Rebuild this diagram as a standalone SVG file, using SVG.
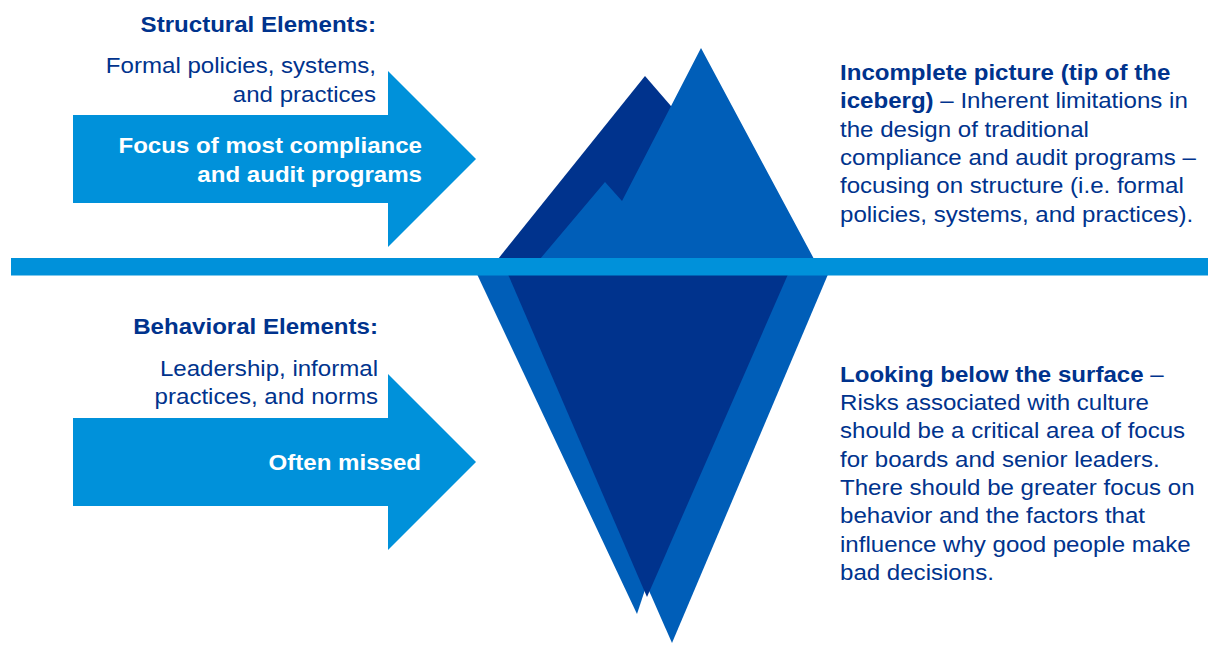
<svg xmlns="http://www.w3.org/2000/svg" width="1208" height="645" viewBox="0 0 1208 645">
<style>
.t{font-family:"Liberation Sans",Arial,sans-serif;font-size:22px;fill:#00338D}
.b{font-weight:bold}
.w{fill:#FFFFFF;font-weight:bold}
.e{text-anchor:end}
.dk{fill:#00338D}
.md{fill:#005EB8}
.lt{fill:#0091DA}
</style>
<rect width="1208" height="645" fill="#FFFFFF"/>
<g id="iceberg">
<polygon class="md" points="476,272 750,272 637,614"/>
<polygon class="md" points="509,272 829,272 672,643"/>
<polygon class="dk" points="507,272 789,272 647,597"/>
<polygon class="dk" points="498,259 645,76 722,165 722,259"/>
<polygon class="md" points="701,48 814,259 540,259 605,182 622,201"/>
</g>
<g id="water">
<rect class="lt" x="11" y="258" width="1197" height="17.5"/>
</g>
<g id="connectors">
<polygon id="arrow-top" class="lt" points="73,115 388,115 388,71 476,159 388,247 388,203 73,203"/>
<polygon id="arrow-bottom" class="lt" points="73,418 388,418 388,374 476,462 388,550 388,506 73,506"/>
</g>
<g id="structural-label" transform="translate(376 0) scale(1.095 1)">
<text class="t b e" x="0" y="32">Structural Elements:</text>
<text class="t e" x="0" y="73.5">Formal policies, systems,</text>
<text class="t e" x="0" y="102">and practices</text>
</g>
<g id="structural-arrow-text" transform="translate(422 0) scale(1.095 1)">
<text class="t w e" x="0" y="153">Focus of most compliance</text>
<text class="t w e" x="0" y="182">and audit programs</text>
</g>
<g id="behavioral-label" transform="translate(378 0) scale(1.095 1)">
<text class="t b e" x="0" y="334">Behavioral Elements:</text>
<text class="t e" x="0" y="376">Leadership, informal</text>
<text class="t e" x="0" y="404.5">practices, and norms</text>
</g>
<g id="behavioral-arrow-text" transform="translate(421 0) scale(1.095 1)">
<text class="t w e" x="0" y="470">Often missed</text>
</g>
<g id="tip-text" transform="translate(840 0) scale(1.095 1)">
<text class="t" x="0" y="80"><tspan class="b">Incomplete picture (tip of the</tspan></text>
<text class="t" x="0" y="108.3"><tspan class="b">iceberg)</tspan> – Inherent limitations in</text>
<text class="t" x="0" y="136.7">the design of traditional</text>
<text class="t" x="0" y="165">compliance and audit programs –</text>
<text class="t" x="0" y="193.3">focusing on structure (i.e. formal</text>
<text class="t" x="0" y="221.7">policies, systems, and practices).</text>
</g>
<g id="below-text" transform="translate(840 0) scale(1.095 1)">
<text class="t" x="0" y="381.7"><tspan class="b">Looking below the surface</tspan> –</text>
<text class="t" x="0" y="410">Risks associated with culture</text>
<text class="t" x="0" y="438.3">should be a critical area of focus</text>
<text class="t" x="0" y="466.7">for boards and senior leaders.</text>
<text class="t" x="0" y="495">There should be greater focus on</text>
<text class="t" x="0" y="523.3">behavior and the factors that</text>
<text class="t" x="0" y="551.7">influence why good people make</text>
<text class="t" x="0" y="580">bad decisions.</text>
</g>
</svg>
